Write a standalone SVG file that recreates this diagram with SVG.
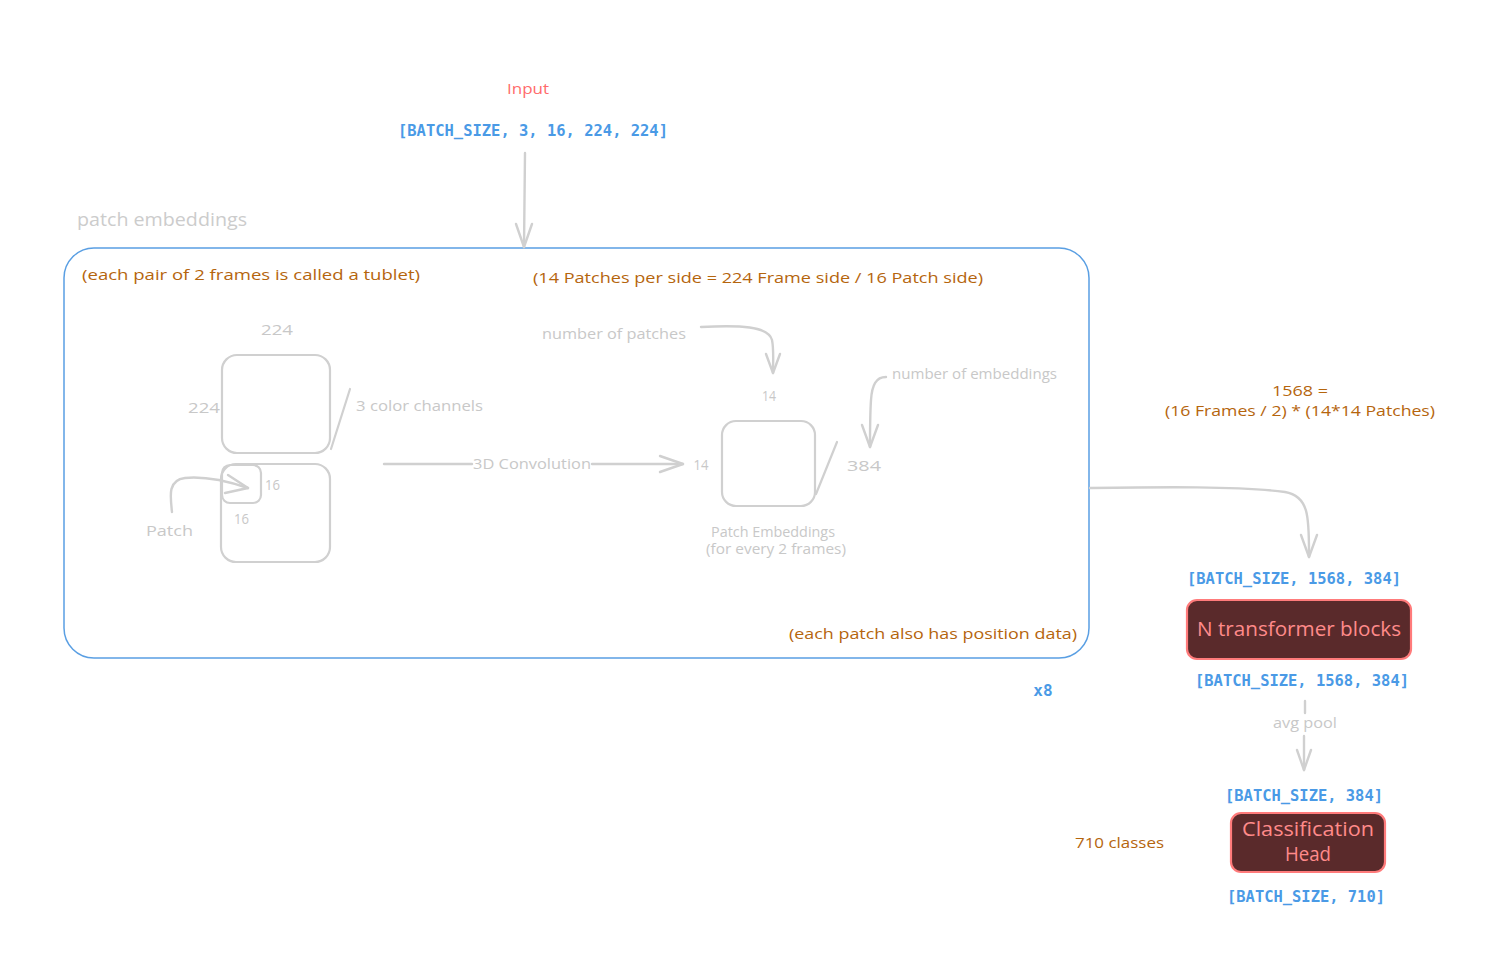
<svg xmlns="http://www.w3.org/2000/svg" width="1497" height="963" viewBox="0 0 1497 963">
  <style>
    .hand { font-family: "Open Sans", "Liberation Sans", sans-serif; }
    .note { fill: #b5650d; font-size: 15px; }
    .gray { fill: #c8c8c8; font-size: 14px; }
    .mono { font-family: "DejaVu Sans Mono", "Liberation Mono", monospace; fill: #4a9ae6; font-size: 16px; font-weight: bold; }
    .shape { fill: none; stroke: #d0d0d0; stroke-width: 2.2; stroke-linecap: round; stroke-linejoin: round; }
    .conn { fill: none; stroke: #d0d0d0; stroke-width: 2.4; stroke-linecap: round; stroke-linejoin: round; }
    .block { fill: #5a2a2b; stroke: #ff7b7b; stroke-width: 2.2; }
    .blocktext { fill: #ff8a8a; font-size: 20px; }
  </style>

  <rect width="1497" height="963" fill="#ffffff"/>

  <!-- input -->
  <g id="input">
    <text class="hand" x="528" y="94" text-anchor="middle" fill="#ff6b6b" font-size="14" textLength="42" lengthAdjust="spacingAndGlyphs">Input</text>
    <text class="mono" x="533" y="136" text-anchor="middle" textLength="270" lengthAdjust="spacingAndGlyphs">[BATCH_SIZE, 3, 16, 224, 224]</text>
  </g>

  <!-- patch embeddings container -->
  <g id="patch-embeddings">
    <text class="hand" x="77" y="226" fill="#cccccc" font-size="19" textLength="170" lengthAdjust="spacingAndGlyphs">patch embeddings</text>
    <rect x="64" y="248" width="1025" height="410" rx="30" ry="30" fill="none" stroke="#5a9fe3" stroke-width="1.5"/>
    <text class="hand note" x="82" y="280" textLength="338" lengthAdjust="spacingAndGlyphs">(each pair of 2 frames is called a tublet)</text>
    <text class="hand note" x="533" y="283" textLength="450" lengthAdjust="spacingAndGlyphs">(14 Patches per side = 224 Frame side / 16 Patch side)</text>
    <text class="hand note" x="1077" y="639" text-anchor="end" textLength="288" lengthAdjust="spacingAndGlyphs">(each patch also has position data)</text>
  </g>

  <!-- input frames -->
  <g id="frames">
    <text class="hand gray" x="277" y="335" text-anchor="middle" textLength="32" lengthAdjust="spacingAndGlyphs">224</text>
    <rect class="shape" x="222" y="355" width="108" height="98" rx="15"/>
    <text class="hand gray" x="204" y="413" text-anchor="middle" textLength="32" lengthAdjust="spacingAndGlyphs">224</text>
    <line class="shape" x1="350" y1="389" x2="331" y2="449"/>
    <text class="hand gray" x="356" y="411" textLength="127" lengthAdjust="spacingAndGlyphs">3 color channels</text>
    <rect class="shape" x="221" y="464" width="109" height="98" rx="15"/>
    <rect class="shape" x="222" y="465" width="39" height="38" rx="8"/>
    <text class="hand gray" x="265" y="490" textLength="15" lengthAdjust="spacingAndGlyphs">16</text>
    <text class="hand gray" x="234" y="524" textLength="15" lengthAdjust="spacingAndGlyphs">16</text>
    <text class="hand gray" x="146" y="536" textLength="47" lengthAdjust="spacingAndGlyphs">Patch</text>
  </g>

  <!-- output patch embeddings -->
  <g id="embeddings">
    <text class="hand gray" x="542" y="339" textLength="144" lengthAdjust="spacingAndGlyphs">number of patches</text>
    <text class="hand gray" x="769" y="401" text-anchor="middle" textLength="14" lengthAdjust="spacingAndGlyphs">14</text>
    <text class="hand gray" x="892" y="379" textLength="165" lengthAdjust="spacingAndGlyphs">number of embeddings</text>
    <text class="hand gray" x="701" y="470" text-anchor="middle" textLength="15" lengthAdjust="spacingAndGlyphs">14</text>
    <rect class="shape" x="722" y="421" width="93" height="85" rx="14"/>
    <line class="shape" x1="837" y1="442" x2="816" y2="494"/>
    <text class="hand gray" x="864" y="471" text-anchor="middle" textLength="34" lengthAdjust="spacingAndGlyphs">384</text>
    <text class="hand gray" x="773" y="537" text-anchor="middle" font-size="13" textLength="124" lengthAdjust="spacingAndGlyphs">Patch Embeddings</text>
    <text class="hand gray" x="776" y="554" text-anchor="middle" font-size="13" textLength="140" lengthAdjust="spacingAndGlyphs">(for every 2 frames)</text>
  </g>

  <!-- shape annotations -->
  <g id="dimensions">
    <text class="hand note" x="1300" y="396" text-anchor="middle" textLength="56" lengthAdjust="spacingAndGlyphs">1568 =</text>
    <text class="hand note" x="1300" y="416" text-anchor="middle" textLength="270" lengthAdjust="spacingAndGlyphs">(16 Frames / 2) * (14*14 Patches)</text>
    <text class="mono" x="1294" y="584" text-anchor="middle" textLength="214" lengthAdjust="spacingAndGlyphs">[BATCH_SIZE, 1568, 384]</text>
    <text class="mono" x="1043" y="696" text-anchor="middle" font-size="14">x8</text>
    <text class="mono" x="1302" y="686" text-anchor="middle" textLength="214" lengthAdjust="spacingAndGlyphs">[BATCH_SIZE, 1568, 384]</text>
    <text class="hand gray" x="1305" y="728" text-anchor="middle" font-size="13" textLength="64" lengthAdjust="spacingAndGlyphs">avg pool</text>
    <text class="mono" x="1304" y="801" text-anchor="middle" textLength="158" lengthAdjust="spacingAndGlyphs">[BATCH_SIZE, 384]</text>
    <text class="hand note" x="1075" y="848" textLength="89" lengthAdjust="spacingAndGlyphs">710 classes</text>
    <text class="mono" x="1306" y="902" text-anchor="middle" textLength="158" lengthAdjust="spacingAndGlyphs">[BATCH_SIZE, 710]</text>
  </g>

  <!-- transformer blocks -->
  <g id="transformer-blocks">
    <rect class="block" x="1187" y="600" width="224" height="59" rx="10"/>
    <text class="hand blocktext" x="1299" y="636" text-anchor="middle" textLength="204" lengthAdjust="spacingAndGlyphs">N transformer blocks</text>
  </g>

  <!-- classification head -->
  <g id="classification-head">
    <rect class="block" x="1231" y="813" width="154" height="59" rx="10"/>
    <text class="hand blocktext" x="1308" y="836" text-anchor="middle" font-size="18" textLength="132" lengthAdjust="spacingAndGlyphs">Classification</text>
    <text class="hand blocktext" x="1308" y="861" text-anchor="middle" font-size="18" textLength="46" lengthAdjust="spacingAndGlyphs">Head</text>
  </g>

  <!-- connectors -->
  <g id="connectors">
    <!-- input to patch embeddings -->
    <path class="conn" d="M525 153 L524 247"/>
    <path class="conn" d="M516 224 L524 247 L532 224"/>
    <!-- patch pointer -->
    <path class="conn" d="M172 512 C170 495 168 480 185 478 C205 476 230 482 248 488"/>
    <path class="conn" d="M228 475 L248 488 L225 493"/>
    <!-- 3D convolution -->
    <path class="conn" d="M384 464 L472 464"/>
    <path class="conn" d="M592 464 L683 464"/>
    <path class="conn" d="M660 456 L683 464 L660 472"/>
    <text class="hand gray" x="532" y="469" text-anchor="middle" textLength="118" lengthAdjust="spacingAndGlyphs">3D Convolution</text>
    <!-- number of patches -->
    <path class="conn" d="M701 327 C740 325 768 326 772 340 C774 350 773 362 773 373"/>
    <path class="conn" d="M766 354 L773 373 L780 354"/>
    <!-- number of embeddings -->
    <path class="conn" d="M886 377 C876 377 872 385 871 400 C870 415 870 432 870 447"/>
    <path class="conn" d="M862 425 L870 447 L878 425"/>
    <!-- patch embeddings to transformer -->
    <path class="conn" d="M1090 488 C1160 487 1240 486 1285 492 C1310 496 1309 520 1309 557"/>
    <path class="conn" d="M1301 535 L1309 557 L1317 535"/>
    <!-- avg pool -->
    <path class="conn" d="M1305 701 L1305 713" stroke-width="1.5"/>
    <path class="conn" d="M1304 736 L1304 770"/>
    <path class="conn" d="M1297 750 L1304 770 L1311 750"/>
  </g>
</svg>
